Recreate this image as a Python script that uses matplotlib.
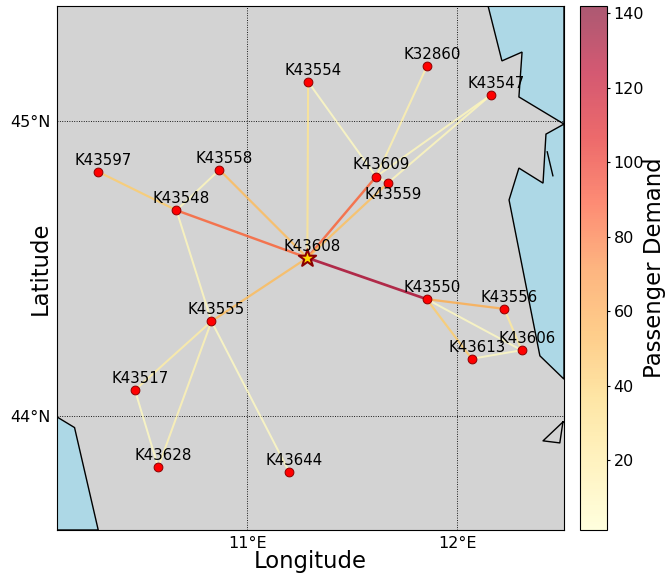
import numpy as np
import matplotlib.pyplot as plt
import matplotlib as mpl

# airports: name, lon, lat
names = ['K43608', 'K43554', 'K32860', 'K43547', 'K43609', 'K43559', 'K43558', 'K43597', 'K43548',
         'K43555', 'K43550', 'K43556', 'K43606', 'K43613', 'K43517', 'K43628', 'K43644']
lons = [11.286, 11.290, 11.857, 12.162, 11.614, 11.671, 10.867, 10.290, 10.662,
        10.829, 11.855, 12.225, 12.308, 12.070, 10.464, 10.575, 11.200]
lats = [44.536, 45.132, 45.186, 45.088, 44.811, 44.790, 44.834, 44.827, 44.697,
        44.321, 44.396, 44.363, 44.223, 44.194, 44.088, 43.827, 43.810]

# routes and their demand
routes_from = ['K43608', 'K43608', 'K43608', 'K43608', 'K43608', 'K43608', 'K43608', 'K43548', 'K43548', 'K43548',
               'K43609', 'K43609', 'K43609', 'K43609', 'K43559', 'K43555', 'K43555', 'K43555', 'K43517',
               'K43550', 'K43550', 'K43550', 'K43556', 'K43613']
routes_to = ['K43550', 'K43548', 'K43609', 'K43558', 'K43554', 'K43555', 'K43559', 'K43597', 'K43558', 'K43555',
             'K43554', 'K32860', 'K43547', 'K43559', 'K43547', 'K43517', 'K43628', 'K43644', 'K43628',
             'K43556', 'K43613', 'K43606', 'K43606', 'K43606']
demand = [130, 85, 85, 50, 25, 50, 48, 42, 8, 8,
          6, 14, 8, 6, 8, 18, 12, 6, 6,
          57, 42, 6, 22, 6]

# coastline pieces in degrees
sea_ne_lon = [12.148, 12.214, 12.310, 12.295, 12.510, 12.510]
sea_ne_lat = [45.389, 45.203, 45.233, 45.081, 44.989, 45.389]
sea_e_lon = [12.510, 12.424, 12.410, 12.295, 12.248, 12.395, 12.510]
sea_e_lat = [44.989, 44.955, 44.789, 44.840, 44.732, 44.204, 44.125]
sea_sw_lon = [10.090, 10.176, 10.289, 10.090]
sea_sw_lat = [43.998, 43.961, 43.614, 43.614]
spur_lon = [12.430, 12.457]
spur_lat = [44.895, 44.814]
islet_lon = [12.505, 12.410, 12.490, 12.505]
islet_lat = [43.980, 43.916, 43.909, 43.980]

hub = 'K43608'
W, H = 668, 575

fig = plt.figure(figsize=(W / 100, H / 100), dpi=100)
ax = fig.add_axes([56.5 / W, 1 - 530 / H, (564 - 56.5) / W, 524 / H])
cax = fig.add_axes([580 / W, 1 - 530 / H, 26.5 / W, 524 / H])

ax.set_facecolor('lightgray')
ax.set_xlim(10.09, 12.51)
ax.set_ylim(43.614, 45.389)

for xs, ys in [(sea_ne_lon, sea_ne_lat), (sea_e_lon, sea_e_lat), (sea_sw_lon, sea_sw_lat)]:
    ax.fill(xs, ys, facecolor='lightblue', edgecolor='black', linewidth=1, zorder=1)
ax.plot(spur_lon, spur_lat, color='black', linewidth=1, zorder=1)
ax.plot(islet_lon, islet_lat, color='black', linewidth=1, zorder=1)

ax.grid(True, color='black', linestyle=':', linewidth=0.65, zorder=2)
ax.set_axisbelow(False)
ax.set_xticks([11, 12])
ax.set_xticklabels(['11°E', '12°E'])
ax.set_yticks([44, 45])
ax.set_yticklabels(['44°N', '45°N'])
ax.tick_params(length=0, labelsize=11.5, pad=4)
ax.set_xlabel('Longitude', fontsize=16.4)
ax.set_ylabel('Latitude', fontsize=16.4)
ax.xaxis.set_label_coords(0.5, -0.038)
ax.yaxis.set_label_coords(-0.009, 0.5)

cmap = plt.get_cmap('YlOrRd')
norm = mpl.colors.Normalize(vmin=1.2, vmax=142)
pos = dict(zip(names, zip(lons, lats)))

for a, b, v in zip(routes_from, routes_to, demand):
    ax.plot([pos[a][0], pos[b][0]], [pos[a][1], pos[b][1]], color=cmap(norm(v)), alpha=0.8,
            linewidth=1.4 + 0.6 * v / 142, solid_capstyle='butt', zorder=3)

for n, x, y in zip(names, lons, lats):
    if n == hub:
        ax.scatter(x, y, s=170, marker='*', color='gold', edgecolor='darkred', linewidth=1.5, zorder=5)
    else:
        ax.scatter(x, y, s=40, color='red', edgecolor='darkred', linewidth=0.7, zorder=4)
    if n == 'K43559':
        ax.text(x + 0.024, y - 0.014, n, fontsize=10.8, ha='center', va='top', zorder=6)
    else:
        ax.text(x + 0.024, y + 0.014, n, fontsize=10.8, ha='center', va='bottom', zorder=6)

sm = mpl.cm.ScalarMappable(norm=norm, cmap=cmap)
cb = fig.colorbar(sm, cax=cax, alpha=0.65)
cb.set_ticks([20, 40, 60, 80, 100, 120, 140])
cb.ax.tick_params(labelsize=11.5, length=2, width=0.8, pad=3)
cb.set_label('Passenger Demand', fontsize=16.4, labelpad=-1)

plt.savefig('out.png', dpi=100)
plt.close()
